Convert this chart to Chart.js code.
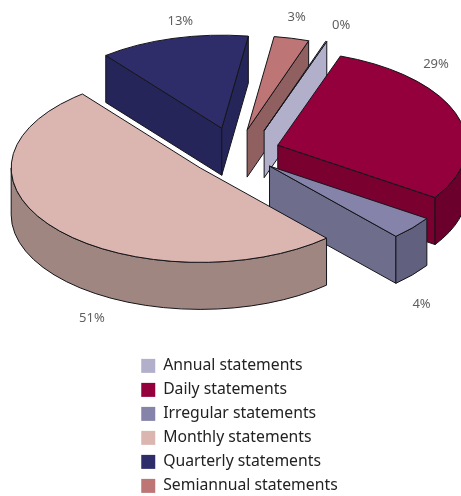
<!DOCTYPE html>
<html>
<head>
<meta charset="utf-8">
<title>Statements</title>
<script src="https://cdn.jsdelivr.net/npm/chart.js@4"></script>
<style>
    html, body { margin: 0; padding: 0; background: #fff; overflow: hidden; }
    canvas { display: block; }
</style>
</head>
<body>
<canvas id="pie3d" width="461" height="496"></canvas>
<script>
// statement frequency shares, clockwise from the annual sliver
const categories = ['Annual statements', 'Daily statements', 'Irregular statements', 'Monthly statements', 'Quarterly statements', 'Semiannual statements'];
const shares = [0.1, 29, 4, 51, 13, 3];
const topColors = ['#b1afc9', '#93003c', '#8583a9', '#dbb6b0', '#2e2d69', '#bd7576'];
const edgeColors = ['#b1afc9', '#7a0030', '#6e6d8c', '#a08681', '#26255a', '#906060'];
const rimColors = ['#8f8da3', '#6a002b', '#62607f', '#a08681', '#26255a', '#906060'];

// 3D look
const centerX = 237, centerY = 152;
const tilt = 0.5, depth = 47, explode = 43;
const paintOrder = [4, 5, 0, 1, 2, 3];
// small hand tweaks per slice: apex shift, radius factor, label shift
const apexNudge = [[13, -1], [0, 0], [0, 0], [-4, 2], [-4, -3], [0, -1]];
const sliceScale = [1, 1, 1, 1, 0.985, 1];
const labelNudge = [[15, -16], [-21, -51], [9, 76], [36, 89], [8, -16], [5, -21]];
const legendDrop = 6;

function rimPath(ctx, x, y, r, from, to, back) {
    ctx.ellipse(x, y, r, r * tilt, 0, from, to, back);
}

function drawWall(ctx, a, b, fill) {
    ctx.beginPath();
    ctx.moveTo(a.x, a.y);
    ctx.lineTo(b.x, b.y);
    ctx.lineTo(b.x, b.y + depth);
    ctx.lineTo(a.x, a.y + depth);
    ctx.closePath();
    ctx.fillStyle = fill;
    ctx.fill();
    ctx.stroke();
}

const pie3d = {
    id: 'pie3d',
    afterLayout(chart) {
        // the legend sits a little lower than chartArea alignment allows
        chart.legend.top += legendDrop;
        chart.legend.bottom += legendDrop;
    },
    beforeDatasetsDraw(chart) {
        const ctx = chart.ctx;
        const arcs = chart.getDatasetMeta(0).data;
        ctx.save();
        ctx.lineWidth = 1;
        ctx.strokeStyle = '#14141a';
        ctx.lineJoin = 'round';

        paintOrder.forEach(i => {
            const arc = arcs[i];
            const { startAngle: start, endAngle: end } = arc;
            const r = arc.outerRadius * sliceScale[i];
            const mid = (start + end) / 2;
            const ax = centerX + explode * Math.cos(mid) + apexNudge[i][0];
            const ay = centerY + explode * tilt * Math.sin(mid) + apexNudge[i][1];
            const apex = { x: ax, y: ay };
            const at = t => ({ x: ax + r * Math.cos(t), y: ay + r * tilt * Math.sin(t) });

            // radial walls, only the ones that face the viewer
            if (Math.sin(start - Math.PI / 2) > 0) drawWall(ctx, apex, at(start), edgeColors[i]);
            if (Math.sin(end + Math.PI / 2) > 0) drawWall(ctx, apex, at(end), edgeColors[i]);

            // outer rim on the lower half of the ellipse
            for (let n = -1; n <= 1; n++) {
                const from = Math.max(start, n * 2 * Math.PI);
                const to = Math.min(end, Math.PI + n * 2 * Math.PI);
                if (from >= to) continue;
                ctx.beginPath();
                rimPath(ctx, ax, ay, r, from, to, false);
                rimPath(ctx, ax, ay + depth, r, to, from, true);
                ctx.closePath();
                ctx.fillStyle = rimColors[i];
                ctx.fill();
                ctx.stroke();
            }

            // top face, the library's own arc squashed onto the ellipse
            ctx.save();
            ctx.translate(ax, ay);
            ctx.scale(sliceScale[i], tilt * sliceScale[i]);
            ctx.translate(-arc.x, -arc.y);
            arc.draw(ctx);
            ctx.restore();

            ctx.beginPath();
            ctx.moveTo(ax, ay);
            rimPath(ctx, ax, ay, r, start, end, false);
            ctx.closePath();
            ctx.stroke();
        });

        // percentage labels
        ctx.font = '13px "Noto Sans", sans-serif';
        ctx.fillStyle = '#5f5f5f';
        ctx.textAlign = 'center';
        ctx.textBaseline = 'middle';
        arcs.forEach((arc, i) => {
            const mid = (arc.startAngle + arc.endAngle) / 2;
            const x = centerX + (explode + arc.outerRadius) * Math.cos(mid) + apexNudge[i][0] + labelNudge[i][0];
            const y = centerY + (explode + arc.outerRadius) * tilt * Math.sin(mid) + apexNudge[i][1] + labelNudge[i][1];
            ctx.fillText(Math.round(shares[i]) + '%', x, y);
        });
        ctx.restore();
        return false;
    }
};

new Chart(document.getElementById('pie3d'), {
    type: 'pie',
    data: {
        labels: categories,
        datasets: [{ data: shares, backgroundColor: topColors, borderWidth: 0, radius: 189 }]
    },
    options: {
        responsive: false,
        animation: false,
        rotation: 19,
        layout: { padding: { left: 133, right: 120, top: 0, bottom: 0 } },
        plugins: {
            tooltip: { enabled: false },
            legend: {
                position: 'chartArea',
                align: 'end',
                labels: {
                    boxWidth: 14, boxHeight: 14, padding: 8.25, color: '#222',
                    font: { family: '"Noto Sans", sans-serif', size: 15.75 }
                }
            }
        }
    },
    plugins: [pie3d]
});
</script>
</body>
</html>
